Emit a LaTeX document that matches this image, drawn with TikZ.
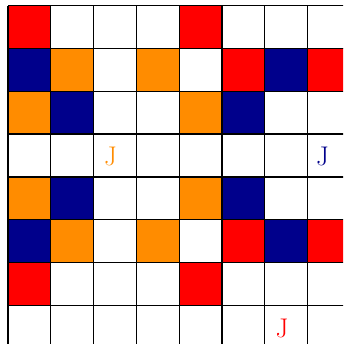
\documentclass[tikz,border=0pt]{standalone}
\definecolor{cR}{RGB}{255,0,0}
\definecolor{cN}{RGB}{0,0,139}
\definecolor{cO}{RGB}{255,140,0}
\tikzset{
  gridline/.style={draw=black,line width=1.3pt},
  jlabel/.style={inner sep=0pt,font=\fontsize{27}{30}\selectfont}
}
\begin{document}
\begin{tikzpicture}[x=1pt,y=1pt]
\useasboundingbox (0,0) rectangle (343,344);
\clip (0,0) rectangle (343,344);
\fill[white] (0,0) rectangle (343,344);
\def\cs{42.8}
\foreach \r/\c/\col in {0/0/cR,0/4/cR,
  1/0/cN,1/1/cO,1/3/cO,1/5/cR,1/6/cN,1/7/cR,
  2/0/cO,2/1/cN,2/4/cO,2/5/cN,
  4/0/cO,4/1/cN,4/4/cO,4/5/cN,
  5/0/cN,5/1/cO,5/3/cO,5/5/cR,5/6/cN,5/7/cR,
  6/0/cR,6/4/cR}{
  \fill[\col] ({8+\c*\cs},{338.3-\r*\cs}) rectangle ++(\cs,-\cs);
}
\foreach \i in {0,...,8}{
  \draw[gridline] ({8+\i*\cs},338.3) -- ({8+\i*\cs},-20);
  \draw[gridline] (8,{338.3-\i*\cs}) -- (360,{338.3-\i*\cs});
}
\node[jlabel,text=cO] (j1) at (110.5,187) {J};
\node[jlabel,text=cN] (j2) at (322.5,187) {J};
\node[jlabel,text=cR] (j3) at (282,16) {J};
\end{tikzpicture}
\end{document}
